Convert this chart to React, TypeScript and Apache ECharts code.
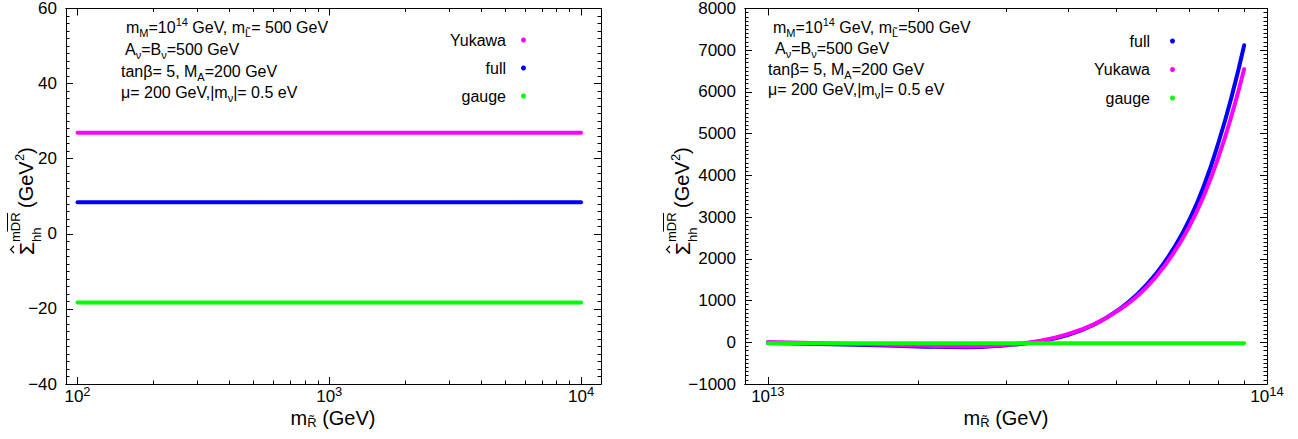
import React, { useEffect, useRef } from "react";
import * as echarts from "echarts";

const FONT = "'Liberation Sans', Arial, Helvetica, sans-serif";

// ---------- Left panel data ----------
const leftMassGeV = [100, 10000];
const leftYukawa = [26.9, 26.9];
const leftFull = [8.4, 8.4];
const leftGauge = [-18.3, -18.3];
const leftXRangeGeV = [90, 12000];
const leftXMajorExp = [2, 3, 4];
const leftYMin = -40;
const leftYMax = 60;
const leftYStep = 20;

// ---------- Right panel data ----------
const rightMassGeV = [
  1e13, 1.5e13, 2e13, 2.5e13, 3e13, 3.5e13, 4e13, 4.5e13, 5e13, 5.5e13,
  6e13, 6.5e13, 7e13, 7.5e13, 8e13, 8.5e13, 9e13,
];
const rightFull = [
  -20, -60, -100, -120, -70, 20, 180, 420, 750, 1150, 1650, 2250, 2950, 3800,
  4800, 5900, 7119,
];
const rightYukawa = [
  5, -40, -80, -100, -60, 30, 200, 430, 740, 1110, 1580, 2140, 2790, 3560,
  4450, 5450, 6548,
];
const rightGauge = [
  -25, -25, -25, -25, -25, -25, -25, -25, -25, -25, -25, -25, -25, -25, -25,
  -25, -25,
];
const rightXRangeGeV = [9e12, 1e14];
const rightXMajorExp = [13, 14];
const rightYMin = -1000;
const rightYMax = 8000;
const rightYStep = 1000;

const MINOR_MULT = [2, 3, 4, 5, 6, 7, 8, 9];

const COLORS: Record<string, string> = {
  Yukawa: "#ff00ff",
  full: "#0000ff",
  gauge: "#00ff00",
};

const GRIDS = [
  { left: 66, top: 6, width: 535, height: 378 },
  { left: 745, top: 6, width: 522, height: 378 },
];

function minorValues(majors: number[]) {
  const out: number[] = [];
  for (const e of majors) {
    for (const k of MINOR_MULT) out.push(e + Math.log10(k));
  }
  return out;
}

const lineCol = { color: "#000", width: 1 };

function xAxesFor(gridIndex: number, range: number[], majors: number[]) {
  const min = Math.log10(range[0]);
  const max = Math.log10(range[1]);
  const minors = minorValues(majors).filter((v) => v > min && v < max);
  const base = {
    type: "value",
    gridIndex,
    min,
    max,
    splitLine: { show: false },
    axisLine: { show: true, onZero: false, lineStyle: lineCol },
  };
  return [
    {
      ...base,
      position: "bottom",
      axisTick: {
        inside: true,
        length: 7,
        lineStyle: lineCol,
        customValues: majors,
      },
      axisLabel: {
        show: true,
        margin: 1,
        customValues: majors,
        formatter: (v: number) => `{b|10}{sup|${Math.round(v)}}`,
        rich: {
          b: { fontSize: 17, fontFamily: FONT, color: "#000", lineHeight: 20, verticalAlign: "bottom" },
          sup: { fontSize: 13, fontFamily: FONT, color: "#000", verticalAlign: "top", lineHeight: 12 },
        },
      },
    },
    {
      ...base,
      position: "bottom",
      axisTick: { inside: true, length: 3.5, lineStyle: lineCol, customValues: minors },
      axisLabel: { show: false },
    },
    {
      ...base,
      position: "top",
      axisTick: { inside: true, length: 7, lineStyle: lineCol, customValues: majors },
      axisLabel: { show: false },
    },
    {
      ...base,
      position: "top",
      axisTick: { inside: true, length: 3.5, lineStyle: lineCol, customValues: minors },
      axisLabel: { show: false },
    },
  ];
}

const fmtMinus = (v: number) => (v < 0 ? "\u2212" + Math.abs(v) : String(v));

function yAxesFor(gridIndex: number, min: number, max: number, step: number) {
  const base = {
    type: "value",
    gridIndex,
    min,
    max,
    interval: step,
    splitLine: { show: false },
    axisLine: { show: true, onZero: false, lineStyle: lineCol },
    axisTick: { inside: true, length: 7, lineStyle: lineCol },
    minorTick: { show: true, splitNumber: 10, length: 3.5, lineStyle: lineCol },
  };
  return [
    {
      ...base,
      position: "left",
      axisLabel: {
        show: true,
        margin: 9,
        fontSize: 17,
        fontFamily: FONT,
        color: "#000",
        formatter: fmtMinus,
      },
    },
    { ...base, position: "right", axisLabel: { show: false } },
  ];
}

function lineSeries(
  name: string,
  xIdx: number,
  yIdx: number,
  xs: number[],
  ys: number[],
  smooth: boolean,
  z: number
) {
  return {
    type: "line",
    name,
    xAxisIndex: xIdx,
    yAxisIndex: yIdx,
    data: xs.map((m, i) => [Math.log10(m), ys[i]]),
    symbol: "none",
    showSymbol: false,
    smooth,
    z,
    itemStyle: { color: COLORS[name] },
    lineStyle: { color: COLORS[name], width: 4, cap: "round" },
  };
}

const annRich = {
  sub: { fontSize: 11, fontFamily: FONT, fill: "#000", verticalAlign: "bottom" },
  sup: { fontSize: 11, fontFamily: FONT, fill: "#000", verticalAlign: "top" },
};

function annText(x: number, y: number, text: string) {
  return {
    type: "text",
    x,
    y,
    silent: true,
    style: {
      text,
      fontSize: 16,
      fontFamily: FONT,
      fill: "#000",
      lineHeight: 22,
      verticalAlign: "middle",
      align: "left",
      rich: annRich,
    },
  };
}

function yTitle(cx: number, cy: number) {
  const t = (x: number, y: number, text: string, size: number) => ({
    type: "text",
    x,
    y,
    silent: true,
    style: {
      text,
      fontSize: size,
      fontFamily: FONT,
      fill: "#000",
      align: "left",
      verticalAlign: "middle",
    },
  });
  return {
    type: "group",
    x: cx,
    y: cy,
    rotation: Math.PI / 2,
    children: [
      t(-58, -7, "\u03A3", 21),
      {
        type: "polyline",
        silent: true,
        shape: { points: [[-56, -19], [-52.5, -22.5], [-49, -19]] },
        style: { stroke: "#000", lineWidth: 1.2, fill: null },
      },
      t(-45, 3, "hh", 13),
      t(-45, -18, "mDR", 13),
      {
        type: "line",
        silent: true,
        shape: { x1: -34.5, y1: -25.5, x2: -16, y2: -25.5 },
        style: { stroke: "#000", lineWidth: 1 },
      },
      t(-11, -7, "(GeV", 20),
      t(36, -14, "2", 13),
      t(43, -7, ")", 20),
    ],
  };
}

function xTitle(cx: number, cy: number) {
  return {
    type: "text",
    x: cx,
    y: cy,
    silent: true,
    style: {
      text: "m{sub|R\u0303} (GeV)",
      fontSize: 20,
      fontFamily: FONT,
      fill: "#000",
      lineHeight: 22,
      align: "center",
      verticalAlign: "middle",
      rich: {
        sub: { fontSize: 13, fontFamily: FONT, fill: "#000", verticalAlign: "bottom" },
      },
    },
  };
}

export default function App() {
  const ref = useRef<HTMLDivElement>(null);

  useEffect(() => {
    if (!ref.current) return;
    const chart = echarts.init(ref.current, null, { renderer: "svg" });

    const option = {
      animation: false,
      backgroundColor: "#fff",
      grid: GRIDS.map((g) => ({ ...g, containLabel: false })),
      xAxis: [
        ...xAxesFor(0, leftXRangeGeV, leftXMajorExp),
        ...xAxesFor(1, rightXRangeGeV, rightXMajorExp),
      ],
      yAxis: [
        ...yAxesFor(0, leftYMin, leftYMax, leftYStep),
        ...yAxesFor(1, rightYMin, rightYMax, rightYStep),
      ],
      legend: [
        {
          data: ["Yukawa", "full", "gauge"],
          orient: "vertical",
          right: 772,
          top: 32,
          align: "right",
          icon: "circle",
          itemWidth: 5,
          itemHeight: 5,
          itemGap: 12,
          padding: 0,
          selectedMode: false,
          textStyle: { fontSize: 16, fontFamily: FONT, color: "#000", padding: [0, 10, 0, 0] },
        },
        {
          data: ["full", "Yukawa", "gauge"],
          orient: "vertical",
          right: 123,
          top: 33,
          align: "right",
          icon: "circle",
          itemWidth: 5,
          itemHeight: 5,
          itemGap: 12.5,
          padding: 0,
          selectedMode: false,
          textStyle: { fontSize: 16, fontFamily: FONT, color: "#000", padding: [0, 15, 0, 0] },
        },
      ],
      series: [
        lineSeries("Yukawa", 0, 0, leftMassGeV, leftYukawa, false, 3),
        lineSeries("full", 0, 0, leftMassGeV, leftFull, false, 3),
        lineSeries("gauge", 0, 0, leftMassGeV, leftGauge, false, 3),
        lineSeries("full", 4, 2, rightMassGeV, rightFull, true, 3),
        lineSeries("Yukawa", 4, 2, rightMassGeV, rightYukawa, true, 4),
        lineSeries("gauge", 4, 2, rightMassGeV, rightGauge, false, 5),
      ],
      graphic: [
        annText(126, 27, "m{sub|M}=10{sup|14} GeV, m{sub|L\u0303}= 500 GeV"),
        annText(125, 49, "A{sub|\u03BD}=B{sub|\u03BD}=500 GeV"),
        annText(121, 71, "tan\u03B2= 5, M{sub|A}=200 GeV"),
        annText(121, 92, "\u03BC= 200 GeV,|m{sub|\u03BD}|= 0.5 eV"),
        annText(773, 27, "m{sub|M}=10{sup|14} GeV, m{sub|L\u0303}=500 GeV"),
        annText(775, 48, "A{sub|\u03BD}=B{sub|\u03BD}=500 GeV"),
        annText(768, 69, "tan\u03B2= 5, M{sub|A}=200 GeV"),
        annText(768, 89, "\u03BC= 200 GeV,|m{sub|\u03BD}|= 0.5 eV"),
        yTitle(33, 197),
        yTitle(689, 197),
        xTitle(333, 418),
        xTitle(1006, 418),
      ],
    };

    chart.setOption(option as any);
    return () => chart.dispose();
  }, []);

  return (
    <div
      ref={ref}
      style={{ position: "absolute", left: 0, top: 0, width: 1298, height: 439 }}
    />
  );
}
